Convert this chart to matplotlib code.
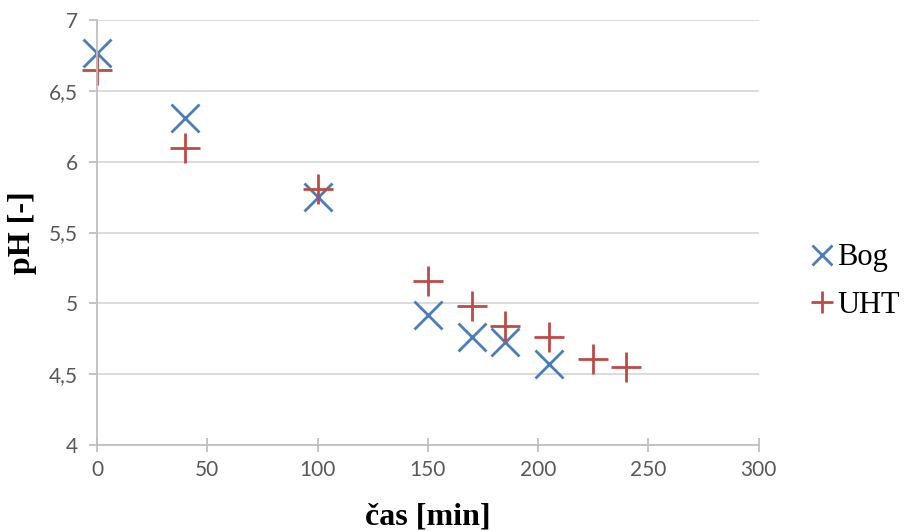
import numpy as np
import matplotlib
matplotlib.use("Agg")
import matplotlib.pyplot as plt
from matplotlib.ticker import FuncFormatter

# pH over time for two milks
bog_t = [0, 40, 100, 150, 170, 185, 205]
bog_ph = [6.77, 6.31, 5.75, 4.92, 4.76, 4.73, 4.57]
uht_t = [0, 40, 100, 150, 170, 185, 205, 225, 240]
uht_ph = [6.65, 6.10, 5.81, 5.16, 4.98, 4.84, 4.76, 4.61, 4.55]

fig = plt.figure(figsize=(9.09, 5.31), dpi=100)
ax = fig.add_axes([0.1067, 0.162, 0.728, 0.80])

ax.plot(bog_t, bog_ph, ls="none", marker="x", ms=20, mew=2, color="#4a7ebb",
        label="Bog", clip_on=False)
ax.plot(uht_t, uht_ph, ls="none", marker="+", ms=22, mew=2, color="#be4b48",
        label="UHT", clip_on=False)

ax.set_xlim(0, 300)
ax.set_ylim(4, 7)
ax.set_xticks(np.arange(0, 301, 50))
ax.set_yticks(np.arange(4, 7.01, 0.5))
ax.yaxis.set_major_formatter(FuncFormatter(lambda v, p: f"{v:g}".replace(".", ",")))

ax.grid(axis="y", color="#d9d9d9", lw=1.3)
ax.set_axisbelow(True)
for s in ["top", "right"]:
    ax.spines[s].set_visible(False)
for s in ["left", "bottom"]:
    ax.spines[s].set_color("#bfbfbf")
    ax.spines[s].set_linewidth(1.3)
ax.tick_params(axis="x", direction="inout", length=10, width=1.3, color="#bfbfbf",
               labelsize=15, labelcolor="#595959", pad=6)
ax.tick_params(axis="y", direction="out", length=6, width=1.3, color="#bfbfbf",
               labelsize=15, labelcolor="#595959", pad=8)
for lab in ax.get_xticklabels() + ax.get_yticklabels():
    lab.set_family("Lato")

ax.set_xlabel("čas [min]", family="Liberation Serif", weight="bold", fontsize=23)
ax.xaxis.set_label_coords(0.5, -0.135)
ax.set_ylabel("pH [-]", family="Liberation Serif", weight="bold", fontsize=23)
ax.yaxis.set_label_coords(-0.09, 0.5)

leg = ax.legend(loc="center left", bbox_to_anchor=(1.035, 0.385), frameon=False,
                prop={"family": "Liberation Serif", "size": 22},
                markerscale=0.7, handlelength=0.8, handletextpad=0.1, labelspacing=0.6,
                borderaxespad=0.5)

fig.savefig("out.png", dpi=100)
